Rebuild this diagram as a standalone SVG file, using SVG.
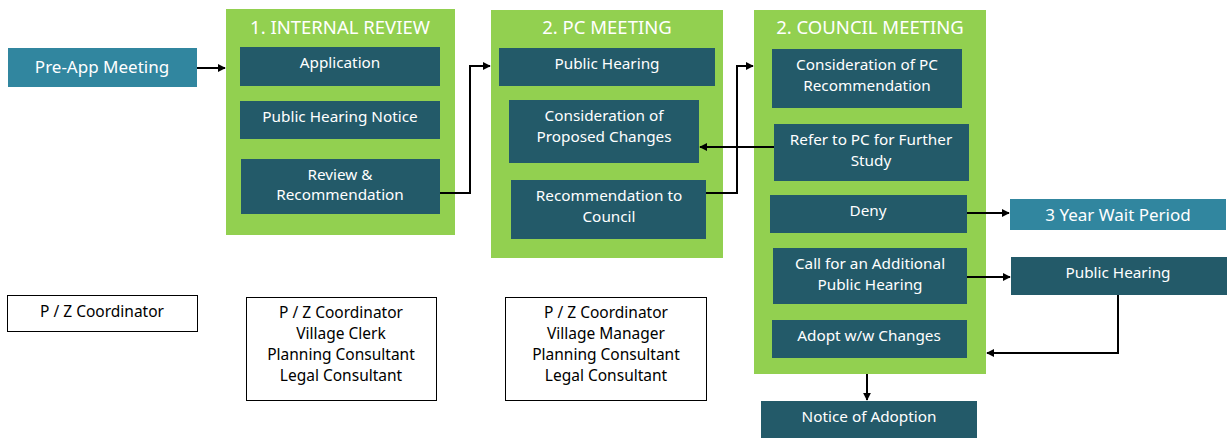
<svg xmlns="http://www.w3.org/2000/svg" width="1229" height="438" viewBox="0 0 1229 438">
  <style>
    .stage { fill: #92d050; }
    .step { fill: #235a69; }
    .accent { fill: #31869f; }
    .role { fill: #ffffff; stroke: #000000; stroke-width: 1; }
    text { font-family: "Noto Sans", "Liberation Sans", sans-serif; text-anchor: middle; }
    .title { fill: #ffffff; font-size: 18.5px; }
    .lbl { fill: #ffffff; font-size: 15.3px; }
    .big { fill: #ffffff; font-size: 17px; }
    .rt { fill: #000000; font-size: 15.5px; }
    .wire { fill: none; stroke: #000000; stroke-width: 2; }
  </style>
  <defs>
    <marker id="arrow" viewBox="0 0 10 10" refX="9" refY="5" markerWidth="4" markerHeight="4" orient="auto">
      <path d="M0,0 L10,5 L0,10 z" fill="#000000"/>
    </marker>
  </defs>

  <rect width="1229" height="438" fill="#ffffff"/>

  <!-- stage containers -->
  <g id="stage-internal-review">
    <rect class="stage" x="226" y="9" width="229" height="226"/>
    <text class="title" x="340" y="34">1. INTERNAL REVIEW</text>
  </g>
  <g id="stage-pc-meeting">
    <rect class="stage" x="491" y="10" width="232" height="248"/>
    <text class="title" x="607" y="34">2. PC MEETING</text>
  </g>
  <g id="stage-council-meeting">
    <rect class="stage" x="754" y="10" width="232" height="364"/>
    <text class="title" x="870" y="34">2. COUNCIL MEETING</text>
  </g>

  <!-- steps -->
  <g id="pre-app">
    <rect class="accent" x="8" y="48" width="189" height="39"/>
    <text class="big" x="102" y="73">Pre-App Meeting</text>
  </g>
  <g id="application">
    <rect class="step" x="240" y="47" width="200" height="39"/>
    <text class="lbl" x="340" y="68">Application</text>
  </g>
  <g id="hearing-notice">
    <rect class="step" x="240" y="101" width="200" height="38"/>
    <text class="lbl" x="340" y="122">Public Hearing Notice</text>
  </g>
  <g id="review-recommendation">
    <rect class="step" x="241" y="159" width="199" height="55"/>
    <text class="lbl" x="340" y="180">Review &amp;</text>
    <text class="lbl" x="340" y="200">Recommendation</text>
  </g>

  <g id="pc-public-hearing">
    <rect class="step" x="499" y="48" width="216" height="38"/>
    <text class="lbl" x="607" y="69">Public Hearing</text>
  </g>
  <g id="pc-consideration">
    <rect class="step" x="509" y="100" width="190" height="63"/>
    <text class="lbl" x="604" y="121">Consideration of</text>
    <text class="lbl" x="604" y="142">Proposed Changes</text>
  </g>
  <g id="pc-recommendation">
    <rect class="step" x="511" y="180" width="195" height="59"/>
    <text class="lbl" x="609" y="201">Recommendation to</text>
    <text class="lbl" x="609" y="222">Council</text>
  </g>

  <g id="council-consideration">
    <rect class="step" x="772" y="49" width="190" height="59"/>
    <text class="lbl" x="867" y="70">Consideration of PC</text>
    <text class="lbl" x="867" y="91">Recommendation</text>
  </g>
  <g id="council-refer">
    <rect class="step" x="774" y="124" width="195" height="57"/>
    <text class="lbl" x="871" y="145">Refer to PC for Further</text>
    <text class="lbl" x="871" y="166">Study</text>
  </g>
  <g id="council-deny">
    <rect class="step" x="770" y="195" width="197" height="38"/>
    <text class="lbl" x="868" y="216">Deny</text>
  </g>
  <g id="council-additional-hearing">
    <rect class="step" x="773" y="248" width="194" height="56"/>
    <text class="lbl" x="870" y="269">Call for an Additional</text>
    <text class="lbl" x="870" y="290">Public Hearing</text>
  </g>
  <g id="council-adopt">
    <rect class="step" x="772" y="320" width="195" height="38"/>
    <text class="lbl" x="869" y="341">Adopt w/w Changes</text>
  </g>

  <g id="wait-period">
    <rect class="accent" x="1010" y="199" width="216" height="31"/>
    <text class="big" x="1118" y="221">3 Year Wait Period</text>
  </g>
  <g id="extra-hearing">
    <rect class="step" x="1011" y="257" width="216" height="38"/>
    <text class="lbl" x="1118" y="278">Public Hearing</text>
  </g>
  <g id="notice-adoption">
    <rect class="step" x="761" y="401" width="216" height="37"/>
    <text class="lbl" x="869" y="422">Notice of Adoption</text>
  </g>

  <!-- participants -->
  <g id="roles-internal">
    <rect class="role" x="7.5" y="295.5" width="190" height="36"/>
    <text class="rt" x="102" y="317">P / Z Coordinator</text>
  </g>
  <g id="roles-pc">
    <rect class="role" x="246.5" y="297.5" width="190" height="103"/>
    <text class="rt" x="341" y="318">P / Z Coordinator</text>
    <text class="rt" x="341" y="339">Village Clerk</text>
    <text class="rt" x="341" y="360">Planning Consultant</text>
    <text class="rt" x="341" y="381">Legal Consultant</text>
  </g>
  <g id="roles-council">
    <rect class="role" x="505.5" y="297.5" width="201" height="103"/>
    <text class="rt" x="606" y="318">P / Z Coordinator</text>
    <text class="rt" x="606" y="339">Village Manager</text>
    <text class="rt" x="606" y="360">Planning Consultant</text>
    <text class="rt" x="606" y="381">Legal Consultant</text>
  </g>

  <!-- connectors -->
  <g id="connectors" class="wire" marker-end="url(#arrow)">
    <path d="M197,68 H225"/>
    <path d="M440,193 H470 V66 H490"/>
    <path d="M706,193 H737 V66 H753"/>
    <path d="M774,147 H700"/>
    <path d="M967,213 H1009"/>
    <path d="M967,277 H1010"/>
    <path d="M1118,295 V353 H987"/>
    <path d="M867,374 V400"/>
  </g>
</svg>
